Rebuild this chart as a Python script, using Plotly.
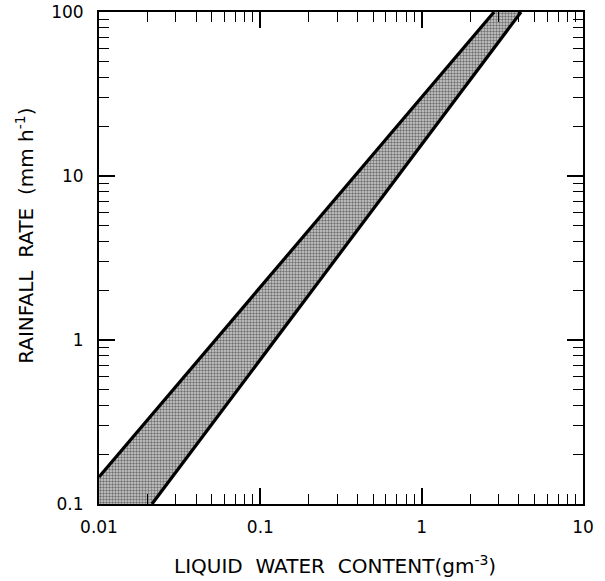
import plotly.graph_objects as go

# Data (log-log straight lines)
upper_x = [0.01, 2.81]
upper_y = [0.146, 100.0]
lower_x = [0.0213, 4.13]
lower_y = [0.1, 100.0]

x_tick_vals = [0.01, 0.1, 1, 10]
x_tick_text = ["0.01", "0.1", "1", "10"]
y_tick_vals = [0.1, 1, 10, 100]
y_tick_text = ["0.1", "1", "10", "100"]

x_title = "LIQUID\u00a0 WATER\u00a0 CONTENT(gm<sup>-3</sup>)"
y_title = "RAINFALL\u00a0 RATE\u00a0 (mm h<sup>-1</sup>)"

FONT = "DejaVu Sans"

# Band polygon: left edge, upper line, top edge, lower line, bottom edge
band_x = [upper_x[0], upper_x[0], upper_x[1], lower_x[1], lower_x[0]]
band_y = [lower_y[0], upper_y[0], upper_y[1], lower_y[1], lower_y[0]]

fig = go.Figure()
fig.add_trace(go.Scatter(
    x=band_x, y=band_y, mode="none", fill="toself",
    fillcolor="rgba(160,160,160,1)",
    fillpattern=dict(shape=".", fgcolor="#111111", bgcolor="#cfcfcf",
                     size=3, solidity=0.5),
    hoverinfo="skip", showlegend=False,
))
fig.add_trace(go.Scatter(x=upper_x, y=upper_y, mode="lines",
                         line=dict(color="black", width=3.2), showlegend=False))
fig.add_trace(go.Scatter(x=lower_x, y=lower_y, mode="lines",
                         line=dict(color="black", width=3.2), showlegend=False))

axis_common = dict(
    type="log", showgrid=False, zeroline=False, automargin=False,
    showline=True, linecolor="black", linewidth=2, mirror="ticks",
    ticks="inside", ticklen=16, tickwidth=1.6, tickcolor="black",
    minor=dict(ticks="inside", ticklen=10, tickwidth=1.4, tickcolor="black",
               dtick="D1", showgrid=False),
    tickfont=dict(family=FONT, size=17, color="black"),
)

fig.update_xaxes(
    **axis_common, range=[-2, 1],
    tickvals=x_tick_vals, ticktext=x_tick_text, ticklabelstandoff=7,
)
fig.update_yaxes(
    **axis_common, range=[-1, 2],
    tickvals=y_tick_vals, ticktext=y_tick_text, ticklabelstandoff=10,
)

fig.add_annotation(
    text=x_title, xref="paper", yref="paper", x=0.4866, y=-0.124,
    xanchor="center", yanchor="middle", showarrow=False,
    font=dict(family=FONT, size=20, color="black"),
)
fig.add_annotation(
    text=y_title, xref="paper", yref="paper", x=-0.153, y=0.545,
    xanchor="center", yanchor="middle", textangle=-90, showarrow=False,
    font=dict(family=FONT, size=20, color="black"),
)

fig.update_layout(
    width=605, height=581,
    margin=dict(l=99, r=22, t=12, b=77),
    paper_bgcolor="white", plot_bgcolor="white",
    showlegend=False,
)

fig.write_html("out.html")
